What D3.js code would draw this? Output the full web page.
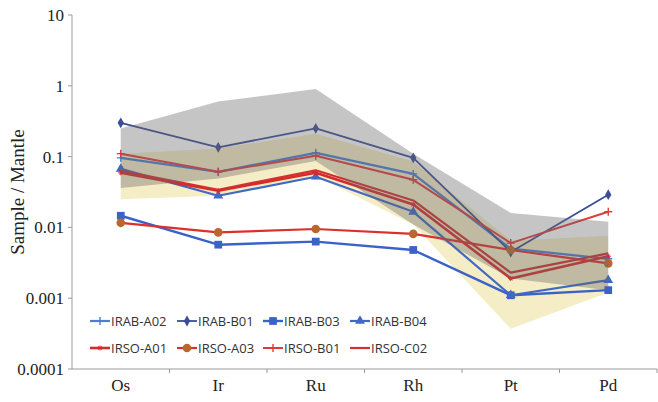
<!DOCTYPE html>
<html>
<head>
<meta charset="utf-8">
<script src="https://cdn.jsdelivr.net/npm/d3@7"></script>
<style>
  body { margin: 0; background: #fff; }
  svg { display: block; }
</style>
</head>
<body>
<div id="chart"></div>
<script>
// elements on the x axis
const elements = ['Os', 'Ir', 'Ru', 'Rh', 'Pt', 'Pd'];
const yTicks = [0.0001, 0.001, 0.01, 0.1, 1, 10];
const yTickLabels = ['0.0001', '0.001', '0.01', '0.1', '1', '10'];

// shaded ranges (upper / lower per element)
const grayUpper = [0.25, 0.6, 0.9, 0.11, 0.016, 0.012];
const grayLower = [0.036, 0.049, 0.087, 0.011, 0.0019, 0.0013];
const yellowUpper = [0.11, 0.13, 0.21, 0.085, 0.0065, 0.0076];
const yellowLower = [0.025, 0.028, 0.053, 0.011, 0.00037, 0.0012];

// samples
const seriesNames = ['IRAB-A02', 'IRAB-B01', 'IRAB-B03', 'IRAB-B04',
                     'IRSO-A01', 'IRSO-A03', 'IRSO-B01', 'IRSO-C02'];
const irabA02 = [0.096, 0.061, 0.113, 0.057, 0.005, 0.0036];
const irabB01 = [0.30, 0.135, 0.25, 0.096, 0.0045, 0.029];
const irabB03 = [0.0146, 0.0057, 0.0063, 0.0048, 0.0011, 0.0013];
const irabB04 = [0.067, 0.028, 0.052, 0.0166, 0.0011, 0.0018];
const irsoA01 = [0.059, 0.033, 0.059, 0.021, 0.0019, 0.0039];
const irsoA03 = [0.0116, 0.0085, 0.0095, 0.0081, 0.0048, 0.0031];
const irsoB01 = [0.11, 0.061, 0.103, 0.047, 0.006, 0.0166];
const irsoC02 = [0.063, 0.034, 0.064, 0.024, 0.0023, 0.0043];

const seriesValues = [irabA02, irabB01, irabB03, irabB04, irsoA01, irsoA03, irsoB01, irsoC02];
const seriesColors = ['#4a7ed6', '#3c4d96', '#3a62c8', '#4168c4', '#d92a2a', '#dc302c', '#e23a3c', '#d42e30'];
const seriesMarkers = ['plus', 'diamond', 'square', 'triangle', 'star', 'circle', 'plus', 'none'];
const seriesWidths = [2.2, 1.8, 2.4, 2.2, 2.6, 2.2, 2, 2.2];

const width = 658, height = 402;
const margin = { top: 15, right: 1, bottom: 33, left: 72 };

const svg = d3.select('#chart').append('svg')
  .attr('width', width)
  .attr('height', height);

const x = d3.scaleBand()
  .domain(elements)
  .range([margin.left, width - margin.right]);

const y = d3.scaleLog()
  .domain([0.0001, 10])
  .range([height - margin.bottom, margin.top]);

const cx = d => x(d) + x.bandwidth() / 2;

// bands
function band(upper, lower) {
  const pts = elements.map((e, i) => [cx(e), y(upper[i])])
    .concat(elements.map((e, i) => [cx(e), y(lower[i])]).reverse());
  return 'M' + pts.map(p => p.join(',')).join('L') + 'Z';
}

svg.append('path')
  .attr('d', band(yellowUpper, yellowLower))
  .attr('fill', '#f5edc6');

// lines
const line = d3.line()
  .x((d, i) => cx(elements[i]))
  .y(d => y(d));

const marker = (g, type, color) => {
  if (type === 'diamond') {
    g.append('path').attr('d', d3.symbol(d3.symbolDiamond, 34)).attr('fill', color);
  } else if (type === 'square') {
    g.append('path').attr('d', d3.symbol(d3.symbolSquare, 60)).attr('fill', color);
  } else if (type === 'triangle') {
    g.append('path').attr('d', d3.symbol(d3.symbolTriangle, 42)).attr('fill', color);
  } else if (type === 'circle') {
    g.append('path').attr('d', d3.symbol(d3.symbolCircle, 58)).attr('fill', '#b8682e');
  } else if (type === 'plus') {
    g.append('path').attr('d', 'M-4,0H4M0,-4V4').attr('stroke', color).attr('stroke-width', 1.4);
  } else if (type === 'star') {
    g.append('path').attr('d', 'M-2.5,0H2.5M0,-2.5V2.5M-1.8,-1.8L1.8,1.8M-1.8,1.8L1.8,-1.8')
      .attr('stroke', color).attr('stroke-width', 1);
  }
};

seriesNames.forEach((name, k) => {
  const vals = seriesValues[k];
  svg.append('path')
    .datum(vals)
    .attr('d', line)
    .attr('fill', 'none')
    .attr('stroke', seriesColors[k])
    .attr('stroke-width', seriesWidths[k])
    .attr('stroke-linejoin', 'round');
  vals.forEach((v, i) => {
    const g = svg.append('g').attr('transform', `translate(${cx(elements[i])},${y(v)})`);
    marker(g, seriesMarkers[k], seriesColors[k]);
  });
});

// gray band sits over the lines, semi-transparent
svg.append('path')
  .attr('d', band(grayUpper, grayLower))
  .attr('fill', '#666')
  .attr('fill-opacity', 0.38);

// axes
const axisColor = '#9a9a9a';
svg.append('line')
  .attr('x1', margin.left).attr('x2', margin.left)
  .attr('y1', margin.top).attr('y2', height - margin.bottom)
  .attr('stroke', axisColor);
svg.append('line')
  .attr('x1', margin.left).attr('x2', width - margin.right)
  .attr('y1', height - margin.bottom).attr('y2', height - margin.bottom)
  .attr('stroke', axisColor);

yTicks.forEach((t, i) => {
  svg.append('line')
    .attr('x1', margin.left - 4).attr('x2', margin.left)
    .attr('y1', y(t)).attr('y2', y(t))
    .attr('stroke', axisColor);
  svg.append('text')
    .attr('x', margin.left - 8)
    .attr('y', y(t))
    .attr('dy', '0.35em')
    .attr('text-anchor', 'end')
    .attr('font-family', 'Liberation Serif, Times New Roman, serif')
    .attr('font-size', 17)
    .attr('fill', '#222')
    .text(yTickLabels[i]);
});

elements.forEach(e => {
  const xr = x(e) + x.bandwidth();
  svg.append('line')
    .attr('x1', xr).attr('x2', xr)
    .attr('y1', height - margin.bottom).attr('y2', height - margin.bottom + 4)
    .attr('stroke', axisColor);
  svg.append('text')
    .attr('x', cx(e))
    .attr('y', 391)
    .attr('text-anchor', 'middle')
    .attr('font-family', 'Liberation Serif, Times New Roman, serif')
    .attr('font-size', 17)
    .attr('fill', '#222')
    .text(e);
});

svg.append('text')
  .attr('transform', `translate(24,${(margin.top + height - margin.bottom) / 2}) rotate(-90)`)
  .attr('text-anchor', 'middle')
  .attr('font-family', 'Liberation Serif, Times New Roman, serif')
  .attr('font-size', 19)
  .attr('fill', '#222')
  .text('Sample / Mantle');

// legend, two rows of four
const legendX = [90, 177, 263, 350];
const legendY = [321, 348];
seriesNames.forEach((name, k) => {
  const lx = legendX[k % 4], ly = legendY[Math.floor(k / 4)];
  const g = svg.append('g').attr('transform', `translate(${lx},${ly})`);
  g.append('line')
    .attr('x1', 0).attr('x2', 20)
    .attr('stroke', seriesColors[k])
    .attr('stroke-width', seriesWidths[k]);
  marker(g.append('g').attr('transform', 'translate(10,0)'), seriesMarkers[k], seriesColors[k]);
  g.append('text')
    .attr('x', 21)
    .attr('dy', '0.35em')
    .attr('font-family', 'Open Sans, sans-serif')
    .attr('font-size', 13)
    .attr('fill', '#333')
    .text(name);
});
</script>
</body>
</html>
